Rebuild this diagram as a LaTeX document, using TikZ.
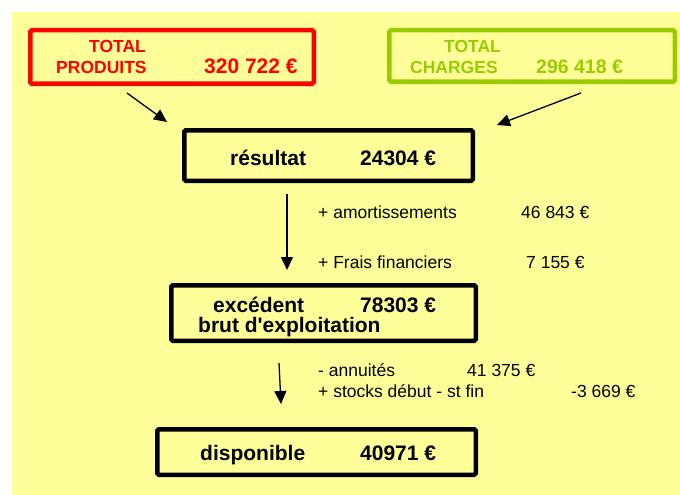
\documentclass[tikz,border=0pt]{standalone}
\usepackage{fontspec}
\setmainfont{Liberation Sans}
\usetikzlibrary{arrows.meta}
\definecolor{fond}{HTML}{FFFF99}
\definecolor{vert}{HTML}{99CC00}
\tikzset{
  cadre/.style={draw,line width=4.5pt,rounded corners=1.5pt,inner sep=0pt},
  titre/.style={font=\fontsize{21}{23}\selectfont\bfseries,anchor=base west,inner sep=0pt},
  ligne/.style={font=\fontsize{17.5}{19}\selectfont,anchor=base west,inner sep=0pt},
  fleche/.style={-{Triangle[length=13pt,width=12pt]},line width=1.3pt}
}
\begin{document}
\begin{tikzpicture}[x=1pt,y=-1pt]
                \useasboundingbox (0,0) rectangle (680,495);
                \fill[fond] (12,12) rectangle (680,495);
                \node[cadre,red,minimum width=283.5pt,minimum height=53.5pt] (prod) at (172,57) {};
                \node[cadre,vert,minimum width=285.5pt,minimum height=51.5pt] (charg) at (532,56) {};
                \node[cadre,minimum width=288.5pt,minimum height=50.5pt] (res) at (328.5,155.5) {};
                \node[cadre,minimum width=304.5pt,minimum height=55.5pt] (ebe) at (323.5,313) {};
                \node[cadre,minimum width=318.5pt,minimum height=45.5pt] (dispo) at (316.5,452) {};
                \node[titre,red,font=\fontsize{17.5}{19}\selectfont\bfseries] (prodA) at (89,53) {TOTAL};
                \node[titre,red,font=\fontsize{17.5}{19}\selectfont\bfseries] (prodB) at (56,74) {PRODUITS};
                \node[titre,red,font=\fontsize{21}{23}\selectfont\bfseries] (prodC) at (204,74) {320 722 €};
                \node[titre,vert,font=\fontsize{17.5}{19}\selectfont\bfseries] (chargA) at (444,53) {TOTAL};
                \node[titre,vert,font=\fontsize{17.5}{19}\selectfont\bfseries] (chargB) at (410,74) {CHARGES};
                \node[titre,vert,font=\fontsize{19.5}{21}\selectfont\bfseries] (chargC) at (536,74) {296 418 €};
                \node[titre] (resA) at (230,165) {résultat};
                \node[titre] (resB) at (360,165) {24304 €};
                \node[titre] (ebeA) at (213,312.5) {excédent};
                \node[titre] (ebeB) at (360,312.5) {78303 €};
                \node[titre] (ebeC) at (198,332.5) {brut d\textquotesingle exploitation};
                \node[titre] (dispoA) at (200,460) {disponible};
                \node[titre] (dispoB) at (360,460) {40971 €};
                \node[ligne] (amA) at (318,218) {+ amortissements};
                \node[ligne] (amB) at (521,218) {46 843 €};
                \node[ligne] (frA) at (318,268) {+ Frais financiers};
                \node[ligne] (frB) at (526,268) {7 155 €};
                \node[ligne] (anA) at (318,376) {- annuités};
                \node[ligne] (anB) at (467,376) {41 375 €};
                \node[ligne] (stA) at (318,397) {+ stocks début - st fin};
                \node[ligne] (stB) at (571,397) {-3 669 €};
                \coordinate (p1) at (127,93);
                \coordinate (p2) at (167,122);
                \coordinate (c1) at (581,93);
                \coordinate (c2) at (497,125);
                \coordinate (r1) at (287,194);
                \coordinate (r2) at (287,270);
                \coordinate (e1) at (279,363);
                \coordinate (e2) at (281,404);
                \draw[fleche] (p1) -- (p2);
                \draw[fleche] (c1) -- (c2);
                \draw[fleche] (r1) -- (r2);
                \draw[fleche] (e1) -- (e2);
            \end{tikzpicture}
\end{document}
